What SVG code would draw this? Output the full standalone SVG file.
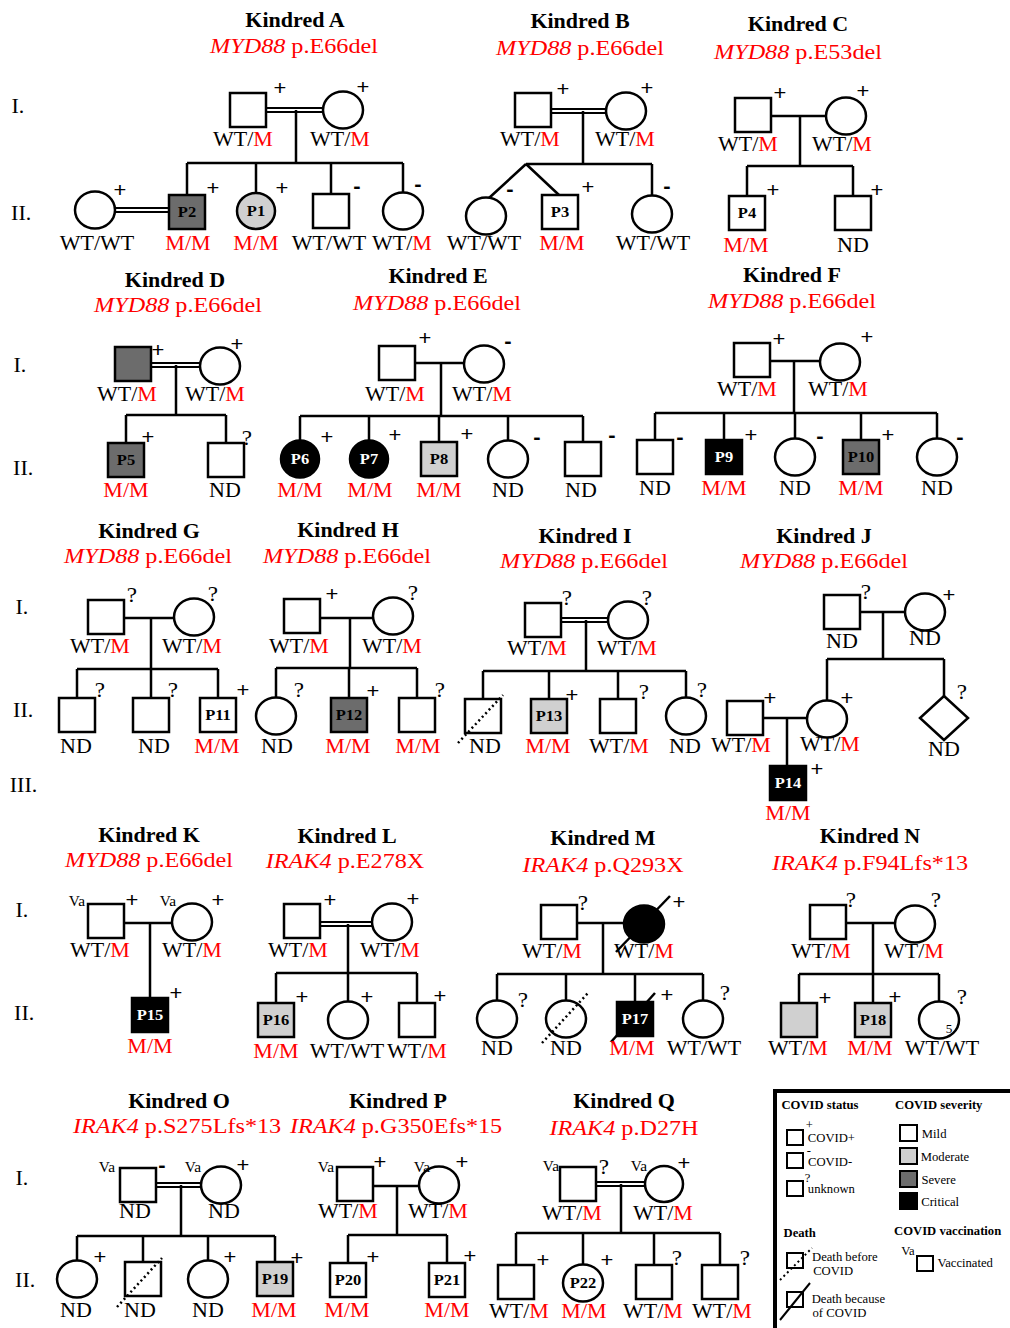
<svg xmlns="http://www.w3.org/2000/svg" width="1010" height="1328" viewBox="0 0 1010 1328">
<style>
text{font-family:"Liberation Serif","Times New Roman",serif;transform-box:fill-box;transform-origin:center;transform:scaleX(1.1)}
.s{fill:#fff;stroke:#000;stroke-width:2.5}
.ls{fill:#fff;stroke:#000;stroke-width:2}
.mo{fill:#d0d0d0}.se{fill:#6c6c6c}.cr{fill:#000}
.c{stroke:#000;stroke-width:2.5;fill:none}
.d{stroke:#000;stroke-width:1.8;fill:none}
.dt{stroke:#000;stroke-width:2.5;stroke-dasharray:2 3;fill:none}
.ti{font-size:20px;font-weight:bold;text-anchor:middle}
.ge{font-size:22px;fill:#f00;text-anchor:middle}
.it{font-style:italic}
.lb{font-size:20px;text-anchor:middle}
.r{fill:#f00}
.mk{font-family:"Liberation Sans",Arial,sans-serif;font-size:20px;text-anchor:middle}
.mn{font-family:"Liberation Sans",Arial,sans-serif;font-size:20px;font-weight:bold;text-anchor:middle}
.q{font-size:21px;text-anchor:middle}
.pl{font-size:15px;font-weight:bold;text-anchor:middle}
.pw{fill:#fff}
.va{font-size:14px;text-anchor:middle}
.gn{font-size:20px}
.lg{font-size:11.5px}
.lh{font-size:11.5px;font-weight:bold}
</style>

<g id="generations">
<text class="gn" x="12" y="113">I.</text><text class="gn" x="12" y="220">II.</text>
<text class="gn" x="14" y="372">I.</text><text class="gn" x="14" y="475">II.</text>
<text class="gn" x="16" y="614">I.</text><text class="gn" x="14" y="717">II.</text><text class="gn" x="11" y="792">III.</text>
<text class="gn" x="16" y="917">I.</text><text class="gn" x="15" y="1020">II.</text>
<text class="gn" x="16" y="1185">I.</text><text class="gn" x="16" y="1287">II.</text>
</g>

<g id="titles">
<text class="ti" x="295" y="27">Kindred A</text><text class="ge" x="294" y="53"><tspan class="it">MYD88</tspan> p.E66del</text>
<text class="ti" x="580" y="28">Kindred B</text><text class="ge" x="580" y="55"><tspan class="it">MYD88</tspan> p.E66del</text>
<text class="ti" x="798" y="31">Kindred C</text><text class="ge" x="798" y="59"><tspan class="it">MYD88</tspan> p.E53del</text>
<text class="ti" x="175" y="287">Kindred D</text><text class="ge" x="178" y="312"><tspan class="it">MYD88</tspan> p.E66del</text>
<text class="ti" x="438" y="283">Kindred E</text><text class="ge" x="437" y="310"><tspan class="it">MYD88</tspan> p.E66del</text>
<text class="ti" x="792" y="282">Kindred F</text><text class="ge" x="792" y="308"><tspan class="it">MYD88</tspan> p.E66del</text>
<text class="ti" x="149" y="538">Kindred G</text><text class="ge" x="148" y="563"><tspan class="it">MYD88</tspan> p.E66del</text>
<text class="ti" x="348" y="537">Kindred H</text><text class="ge" x="347" y="563"><tspan class="it">MYD88</tspan> p.E66del</text>
<text class="ti" x="585" y="543">Kindred I</text><text class="ge" x="584" y="568"><tspan class="it">MYD88</tspan> p.E66del</text>
<text class="ti" x="824" y="543">Kindred J</text><text class="ge" x="824" y="568"><tspan class="it">MYD88</tspan> p.E66del</text>
<text class="ti" x="149" y="842">Kindred K</text><text class="ge" x="149" y="867"><tspan class="it">MYD88</tspan> p.E66del</text>
<text class="ti" x="347" y="843">Kindred L</text><text class="ge" x="345" y="868"><tspan class="it">IRAK4</tspan> p.E278X</text>
<text class="ti" x="603" y="845">Kindred M</text><text class="ge" x="603" y="872"><tspan class="it">IRAK4</tspan> p.Q293X</text>
<text class="ti" x="870" y="843">Kindred N</text><text class="ge" x="870" y="870"><tspan class="it">IRAK4</tspan> p.F94Lfs*13</text>
<text class="ti" x="179" y="1108">Kindred O</text><text class="ge" x="177" y="1133"><tspan class="it">IRAK4</tspan> p.S275Lfs*13</text>
<text class="ti" x="398" y="1108">Kindred P</text><text class="ge" x="396" y="1133"><tspan class="it">IRAK4</tspan> p.G350Efs*15</text>
<text class="ti" x="624" y="1108">Kindred Q</text><text class="ge" x="624" y="1135"><tspan class="it">IRAK4</tspan> p.D27H</text>
</g>

<g id="connectors">
<path class="d" d="M266 108H323M266 112H323M115 208H169M115 212H169"/>
<path class="c" d="M296 110V163M187 163H403M187 163V195M256 163V193M331 163V194M403 163V192.5"/>
<path class="d" d="M551 109H606M551 113H606"/>
<path class="c" d="M583 111V164M526 164H652M526 164L489 198M526 164L559 195M652 164V195.5"/>
<path class="c" d="M771 116H826M800 116V166M747 166H853M747 166V196M853 166V196"/>
<path class="d" d="M151 363H200M151 367H200"/>
<path class="c" d="M176 365V415M126 415H226M126 415V443M226 415V443"/>
<path class="c" d="M415 363H464M441 363V416M300 416H583M300 416V440.5M369 416V440.5M439 416V442M508 416V440.5M583 416V442"/>
<path class="c" d="M770 361H820M794 361V413M655 413H937M655 413V440M724 413V440M795 413V438.5M861 413V440M937 413V438.5"/>
<path class="c" d="M124 618H174M151 618V669M77 669H218M77 669V698M151 669V698M218 669V698"/>
<path class="c" d="M320 618H373M350 618V668M276 668H417M276 668V697.5M349 668V698M417 668V698"/>
<path class="d" d="M561 618H608M561 622H608"/>
<path class="c" d="M586 620V671M483 671H686M483 671V699M549 671V699M618 671V699M686 671V697.5"/>
<path class="c" d="M860 612H905M883 612V659M827 659H944M827 659V700.5M944 659V696M763 718H807M787 718V766"/>
<path class="c" d="M124 923H172M150 923V998"/>
<path class="d" d="M320 922H372M320 926H372"/>
<path class="c" d="M348 924V973M276 973H417M276 973V1003M348 973V1001.5M417 973V1003"/>
<path class="c" d="M577 923H624M603 923V974M497 974H703M497 974V1000.5M566 974V1000.5M635 974V1002M703 974V1000.5"/>
<path class="c" d="M846 923H895M873 923V974M799 974H939M799 974V1003M873 974V1003M939 974V1001.5"/>
<path class="d" d="M156 1183H201M156 1187H201"/>
<path class="c" d="M181 1185V1236M77 1236H275M77 1236V1260.5M143 1236V1262M208 1236V1260.5M275 1236V1262"/>
<path class="c" d="M373 1186H419M397 1186V1235M348 1235H447M348 1235V1263M447 1235V1263"/>
<path class="d" d="M596 1182H644M596 1186H644"/>
<path class="c" d="M621 1184V1233M516 1233H720M516 1233V1265M583 1233V1264.5M654 1233V1265M720 1233V1265"/>
</g>

<g id="A-I1"><rect class="s" x="230" y="93" width="36" height="34"/><text class="mk" x="280" y="95">+</text><text class="lb" x="243" y="146">WT/<tspan class="r">M</tspan></text></g>
<g id="A-I2"><ellipse class="s" cx="343" cy="110" rx="20" ry="18.5"/><text class="mk" x="363" y="94">+</text><text class="lb" x="340" y="146">WT/<tspan class="r">M</tspan></text></g>
<g id="A-sp"><ellipse class="s" cx="95" cy="210" rx="20" ry="18.5"/><text class="mk" x="120" y="197">+</text><text class="lb" x="97" y="250">WT/WT</text></g>
<g id="A-P2"><rect class="s se" x="169" y="195" width="36" height="34"/><text class="pl" x="187" y="217">P2</text><text class="mk" x="213" y="195">+</text><text class="lb r" x="188" y="250">M/M</text></g>
<g id="A-P1"><ellipse class="s mo" cx="256" cy="211" rx="19" ry="18"/><text class="pl" x="256" y="216">P1</text><text class="mk" x="282" y="195">+</text><text class="lb r" x="256" y="250">M/M</text></g>
<g id="A-II3"><rect class="s" x="313" y="194" width="36" height="34"/><text class="mn" x="357" y="193">-</text><text class="lb" x="329" y="250">WT/WT</text></g>
<g id="A-II4"><ellipse class="s" cx="403" cy="211" rx="20" ry="18.5"/><text class="mn" x="418" y="191">-</text><text class="lb" x="402" y="250">WT/<tspan class="r">M</tspan></text></g>

<g id="B-I1"><rect class="s" x="515" y="93" width="36" height="34"/><text class="mk" x="563" y="96">+</text><text class="lb" x="530" y="146">WT/<tspan class="r">M</tspan></text></g>
<g id="B-I2"><ellipse class="s" cx="626" cy="111" rx="20" ry="18.5"/><text class="mk" x="647" y="95">+</text><text class="lb" x="625" y="146">WT/<tspan class="r">M</tspan></text></g>
<g id="B-II1"><ellipse class="s" cx="486" cy="216" rx="20" ry="18.5"/><text class="mn" x="510" y="196">-</text><text class="lb" x="484" y="250">WT/WT</text></g>
<g id="B-P3"><rect class="s" x="542" y="195" width="36" height="34"/><text class="pl" x="560" y="217">P3</text><text class="mk" x="588" y="194">+</text><text class="lb r" x="562" y="250">M/M</text></g>
<g id="B-II3"><ellipse class="s" cx="652" cy="214" rx="20" ry="18.5"/><text class="mn" x="667" y="193">-</text><text class="lb" x="653" y="250">WT/WT</text></g>

<g id="C-I1"><rect class="s" x="735" y="98" width="36" height="34"/><text class="mk" x="780" y="100">+</text><text class="lb" x="748" y="151">WT/<tspan class="r">M</tspan></text></g>
<g id="C-I2"><ellipse class="s" cx="846" cy="116" rx="20" ry="18.5"/><text class="mk" x="863" y="98">+</text><text class="lb" x="842" y="151">WT/<tspan class="r">M</tspan></text></g>
<g id="C-P4"><rect class="s" x="729" y="196" width="36" height="34"/><text class="pl" x="747" y="218">P4</text><text class="mk" x="773" y="197">+</text><text class="lb r" x="746" y="252">M/M</text></g>
<g id="C-II2"><rect class="s" x="835" y="196" width="36" height="34"/><text class="mk" x="877" y="197">+</text><text class="lb" x="853" y="252">ND</text></g>

<g id="D-I1"><rect class="s se" x="115" y="347" width="36" height="34"/><text class="mk" x="158" y="357">+</text><text class="lb" x="127" y="401">WT/<tspan class="r">M</tspan></text></g>
<g id="D-I2"><ellipse class="s" cx="220" cy="366" rx="20" ry="18.5"/><text class="mk" x="237" y="351">+</text><text class="lb" x="215" y="401">WT/<tspan class="r">M</tspan></text></g>
<g id="D-P5"><rect class="s se" x="108" y="443" width="36" height="34"/><text class="pl" x="126" y="465">P5</text><text class="mk" x="148" y="444">+</text><text class="lb r" x="126" y="497">M/M</text></g>
<g id="D-II2"><rect class="s" x="208" y="443" width="36" height="34"/><text class="q" x="247" y="445">?</text><text class="lb" x="225" y="497">ND</text></g>

<g id="E-I1"><rect class="s" x="379" y="346" width="36" height="34"/><text class="mk" x="425" y="345">+</text><text class="lb" x="395" y="401">WT/<tspan class="r">M</tspan></text></g>
<g id="E-I2"><ellipse class="s" cx="484" cy="364" rx="20" ry="18.5"/><text class="mn" x="508" y="348">-</text><text class="lb" x="482" y="401">WT/<tspan class="r">M</tspan></text></g>
<g id="E-P6"><ellipse class="s cr" cx="300" cy="459" rx="19" ry="18.5"/><text class="pl pw" x="300" y="464">P6</text><text class="mk" x="327" y="444">+</text><text class="lb r" x="300" y="497">M/M</text></g>
<g id="E-P7"><ellipse class="s cr" cx="369" cy="459" rx="19" ry="18.5"/><text class="pl pw" x="369" y="464">P7</text><text class="mk" x="395" y="442">+</text><text class="lb r" x="370" y="497">M/M</text></g>
<g id="E-P8"><rect class="s mo" x="421" y="442" width="36" height="34"/><text class="pl" x="439" y="464">P8</text><text class="mk" x="467" y="441">+</text><text class="lb r" x="439" y="497">M/M</text></g>
<g id="E-II4"><ellipse class="s" cx="508" cy="459" rx="20" ry="18.5"/><text class="mn" x="537" y="444">-</text><text class="lb" x="508" y="497">ND</text></g>
<g id="E-II5"><rect class="s" x="565" y="442" width="36" height="34"/><text class="mn" x="612" y="442">-</text><text class="lb" x="581" y="497">ND</text></g>

<g id="F-I1"><rect class="s" x="734" y="343" width="36" height="34"/><text class="mk" x="779" y="346">+</text><text class="lb" x="747" y="396">WT/<tspan class="r">M</tspan></text></g>
<g id="F-I2"><ellipse class="s" cx="840" cy="362" rx="20" ry="18.5"/><text class="mk" x="867" y="344">+</text><text class="lb" x="838" y="396">WT/<tspan class="r">M</tspan></text></g>
<g id="F-II1"><rect class="s" x="637" y="440" width="36" height="34"/><text class="mn" x="680" y="444">-</text><text class="lb" x="655" y="495">ND</text></g>
<g id="F-P9"><rect class="s cr" x="706" y="440" width="36" height="34"/><text class="pl pw" x="724" y="462">P9</text><text class="mk" x="751" y="442">+</text><text class="lb r" x="724" y="495">M/M</text></g>
<g id="F-II3"><ellipse class="s" cx="795" cy="457" rx="20" ry="18.5"/><text class="mn" x="820" y="443">-</text><text class="lb" x="795" y="495">ND</text></g>
<g id="F-P10"><rect class="s se" x="843" y="440" width="36" height="34"/><text class="pl" x="861" y="462">P10</text><text class="mk" x="888" y="442">+</text><text class="lb r" x="861" y="495">M/M</text></g>
<g id="F-II5"><ellipse class="s" cx="937" cy="457" rx="20" ry="18.5"/><text class="mn" x="960" y="444">-</text><text class="lb" x="937" y="495">ND</text></g>

<g id="G-I1"><rect class="s" x="88" y="600" width="36" height="34"/><text class="q" x="132" y="602">?</text><text class="lb" x="100" y="653">WT/<tspan class="r">M</tspan></text></g>
<g id="G-I2"><ellipse class="s" cx="194" cy="617" rx="20" ry="18.5"/><text class="q" x="213" y="601">?</text><text class="lb" x="192" y="653">WT/<tspan class="r">M</tspan></text></g>
<g id="G-II1"><rect class="s" x="59" y="698" width="36" height="34"/><text class="q" x="100" y="697">?</text><text class="lb" x="76" y="753">ND</text></g>
<g id="G-II2"><rect class="s" x="133" y="698" width="36" height="34"/><text class="q" x="173" y="697">?</text><text class="lb" x="154" y="753">ND</text></g>
<g id="G-P11"><rect class="s" x="200" y="698" width="36" height="34"/><text class="pl" x="218" y="720">P11</text><text class="mk" x="243" y="697">+</text><text class="lb r" x="217" y="753">M/M</text></g>

<g id="H-I1"><rect class="s" x="284" y="599" width="36" height="34"/><text class="mk" x="332" y="601">+</text><text class="lb" x="299" y="653">WT/<tspan class="r">M</tspan></text></g>
<g id="H-I2"><ellipse class="s" cx="393" cy="616" rx="20" ry="18.5"/><text class="q" x="413" y="600">?</text><text class="lb" x="392" y="653">WT/<tspan class="r">M</tspan></text></g>
<g id="H-II1"><ellipse class="s" cx="276" cy="716" rx="20" ry="18.5"/><text class="q" x="299" y="697">?</text><text class="lb" x="277" y="753">ND</text></g>
<g id="H-P12"><rect class="s se" x="331" y="698" width="36" height="34"/><text class="pl" x="349" y="720">P12</text><text class="mk" x="373" y="698">+</text><text class="lb r" x="348" y="753">M/M</text></g>
<g id="H-II3"><rect class="s" x="399" y="698" width="36" height="34"/><text class="q" x="440" y="697">?</text><text class="lb r" x="418" y="753">M/M</text></g>

<g id="I-I1"><rect class="s" x="525" y="603" width="36" height="34"/><text class="q" x="567" y="605">?</text><text class="lb" x="537" y="655">WT/<tspan class="r">M</tspan></text></g>
<g id="I-I2"><ellipse class="s" cx="628" cy="620" rx="20" ry="18.5"/><text class="q" x="647" y="605">?</text><text class="lb" x="627" y="655">WT/<tspan class="r">M</tspan></text></g>
<g id="I-II1"><rect class="s" x="465" y="699" width="36" height="34"/><path class="dt" d="M458 743L503 695"/><text class="lb" x="485" y="753">ND</text></g>
<g id="I-P13"><rect class="s mo" x="531" y="699" width="36" height="34"/><text class="pl" x="549" y="721">P13</text><text class="mk" x="572" y="702">+</text><text class="lb r" x="548" y="753">M/M</text></g>
<g id="I-II3"><rect class="s" x="600" y="699" width="36" height="34"/><text class="q" x="644" y="699">?</text><text class="lb" x="619" y="753">WT/<tspan class="r">M</tspan></text></g>
<g id="I-II4"><ellipse class="s" cx="686" cy="716" rx="20" ry="18.5"/><text class="q" x="702" y="697">?</text><text class="lb" x="685" y="753">ND</text></g>

<g id="J-I1"><rect class="s" x="824" y="595" width="36" height="34"/><text class="q" x="866" y="599">?</text><text class="lb" x="842" y="648">ND</text></g>
<g id="J-I2"><ellipse class="s" cx="925" cy="612" rx="20" ry="18.5"/><text class="mk" x="949" y="602">+</text><text class="lb" x="925" y="645">ND</text></g>
<g id="J-sp"><rect class="s" x="727" y="701" width="36" height="34"/><text class="mk" x="770" y="705">+</text><text class="lb" x="741" y="752">WT/<tspan class="r">M</tspan></text></g>
<g id="J-II1"><ellipse class="s" cx="827" cy="719" rx="20" ry="18.5"/><text class="mk" x="847" y="705">+</text><text class="lb" x="830" y="751">WT/<tspan class="r">M</tspan></text></g>
<g id="J-II2"><path class="s" d="M944 696L968 718L944 740L920 718Z"/><text class="q" x="962" y="699">?</text><text class="lb" x="944" y="756">ND</text></g>
<g id="J-P14"><rect class="s cr" x="770" y="766" width="36" height="34"/><text class="pl pw" x="788" y="788">P14</text><text class="mk" x="817" y="776">+</text><text class="lb r" x="788" y="820">M/M</text></g>

<g id="K-I1"><rect class="s" x="88" y="904" width="36" height="34"/><text class="va" x="77" y="906">Va</text><text class="mk" x="132" y="907">+</text><text class="lb" x="100" y="957">WT/<tspan class="r">M</tspan></text></g>
<g id="K-I2"><ellipse class="s" cx="192" cy="922" rx="20" ry="18.5"/><text class="va" x="168" y="906">Va</text><text class="mk" x="218" y="907">+</text><text class="lb" x="192" y="957">WT/<tspan class="r">M</tspan></text></g>
<g id="K-P15"><rect class="s cr" x="132" y="998" width="36" height="34"/><text class="pl pw" x="150" y="1020">P15</text><text class="mk" x="176" y="1000">+</text><text class="lb r" x="150" y="1053">M/M</text></g>

<g id="L-I1"><rect class="s" x="284" y="904" width="36" height="34"/><text class="mk" x="330" y="907">+</text><text class="lb" x="298" y="957">WT/<tspan class="r">M</tspan></text></g>
<g id="L-I2"><ellipse class="s" cx="392" cy="922" rx="20" ry="18.5"/><text class="mk" x="413" y="906">+</text><text class="lb" x="390" y="957">WT/<tspan class="r">M</tspan></text></g>
<g id="L-P16"><rect class="s mo" x="258" y="1003" width="36" height="34"/><text class="pl" x="276" y="1025">P16</text><text class="mk" x="302" y="1004">+</text><text class="lb r" x="276" y="1058">M/M</text></g>
<g id="L-II2"><ellipse class="s" cx="348" cy="1020" rx="20" ry="18.5"/><text class="mk" x="367" y="1004">+</text><text class="lb" x="347" y="1058">WT/WT</text></g>
<g id="L-II3"><rect class="s" x="399" y="1003" width="36" height="34"/><text class="mk" x="440" y="1003">+</text><text class="lb" x="417" y="1058">WT/<tspan class="r">M</tspan></text></g>

<g id="M-I1"><rect class="s" x="541" y="905" width="36" height="34"/><text class="q" x="583" y="910">?</text><text class="lb" x="552" y="958">WT/<tspan class="r">M</tspan></text></g>
<g id="M-I2"><ellipse class="s cr" cx="644" cy="924" rx="20" ry="18.5"/><path class="c" d="M616 952L670 896"/><text class="mk" x="679" y="909">+</text><text class="lb" x="644" y="958">WT/<tspan class="r">M</tspan></text></g>
<g id="M-II1"><ellipse class="s" cx="497" cy="1019" rx="20" ry="18.5"/><text class="q" x="523" y="1007">?</text><text class="lb" x="497" y="1055">ND</text></g>
<g id="M-II2"><ellipse class="s" cx="566" cy="1019" rx="20" ry="18.5"/><path class="dt" d="M542 1043L588 993"/><text class="lb" x="566" y="1055">ND</text></g>
<g id="M-P17"><rect class="s cr" x="617" y="1002" width="36" height="34"/><path class="c" d="M611 1042L655 993"/><text class="pl pw" x="635" y="1024">P17</text><text class="mk" x="667" y="1002">+</text><text class="lb r" x="632" y="1055">M/M</text></g>
<g id="M-II4"><ellipse class="s" cx="703" cy="1019" rx="20" ry="18.5"/><text class="q" x="725" y="1000">?</text><text class="lb" x="704" y="1055">WT/WT</text></g>

<g id="N-I1"><rect class="s" x="810" y="905" width="36" height="34"/><text class="q" x="851" y="907">?</text><text class="lb" x="821" y="958">WT/<tspan class="r">M</tspan></text></g>
<g id="N-I2"><ellipse class="s" cx="915" cy="924" rx="20" ry="18.5"/><text class="q" x="936" y="907">?</text><text class="lb" x="914" y="958">WT/<tspan class="r">M</tspan></text></g>
<g id="N-II1"><rect class="s mo" x="781" y="1003" width="36" height="34"/><text class="mk" x="825" y="1005">+</text><text class="lb" x="798" y="1055">WT/<tspan class="r">M</tspan></text></g>
<g id="N-P18"><rect class="s mo" x="855" y="1003" width="36" height="34"/><text class="pl" x="873" y="1025">P18</text><text class="mk" x="895" y="1004">+</text><text class="lb r" x="870" y="1055">M/M</text></g>
<g id="N-II3"><ellipse class="s" cx="939" cy="1020" rx="20" ry="18.5"/><text x="946" y="1033" style="font-size:12px">5</text><text class="q" x="962" y="1004">?</text><text class="lb" x="942" y="1055">WT/WT</text></g>

<g id="O-I1"><rect class="s" x="120" y="1168" width="36" height="34"/><text class="va" x="107" y="1172">Va</text><text class="mn" x="162" y="1172">-</text><text class="lb" x="135" y="1218">ND</text></g>
<g id="O-I2"><ellipse class="s" cx="221" cy="1185" rx="20" ry="18.5"/><text class="va" x="193" y="1172">Va</text><text class="mk" x="243" y="1172">+</text><text class="lb" x="224" y="1218">ND</text></g>
<g id="O-II1"><ellipse class="s" cx="77" cy="1279" rx="20" ry="18.5"/><text class="mk" x="100" y="1264">+</text><text class="lb" x="76" y="1317">ND</text></g>
<g id="O-II2"><rect class="s" x="125" y="1262" width="36" height="34"/><path class="dt" d="M117 1307L162 1258"/><text class="lb" x="140" y="1317">ND</text></g>
<g id="O-II3"><ellipse class="s" cx="208" cy="1279" rx="20" ry="18.5"/><text class="mk" x="230" y="1264">+</text><text class="lb" x="208" y="1317">ND</text></g>
<g id="O-P19"><rect class="s mo" x="257" y="1262" width="36" height="34"/><text class="pl" x="275" y="1284">P19</text><text class="mk" x="297" y="1265">+</text><text class="lb r" x="274" y="1317">M/M</text></g>

<g id="P-I1"><rect class="s" x="337" y="1167" width="36" height="34"/><text class="va" x="326" y="1172">Va</text><text class="mk" x="380" y="1169">+</text><text class="lb" x="348" y="1218">WT/<tspan class="r">M</tspan></text></g>
<g id="P-I2"><ellipse class="s" cx="439" cy="1185" rx="20" ry="18.5"/><text class="va" x="422" y="1172">Va</text><text class="mk" x="462" y="1169">+</text><text class="lb" x="438" y="1218">WT/<tspan class="r">M</tspan></text></g>
<g id="P-P20"><rect class="s" x="330" y="1263" width="36" height="34"/><text class="pl" x="348" y="1285">P20</text><text class="mk" x="373" y="1264">+</text><text class="lb r" x="347" y="1317">M/M</text></g>
<g id="P-P21"><rect class="s" x="429" y="1263" width="36" height="34"/><text class="pl" x="447" y="1285">P21</text><text class="mk" x="470" y="1263">+</text><text class="lb r" x="447" y="1317">M/M</text></g>

<g id="Q-I1"><rect class="s" x="560" y="1167" width="36" height="34"/><text class="va" x="551" y="1171">Va</text><text class="q" x="604" y="1174">?</text><text class="lb" x="572" y="1220">WT/<tspan class="r">M</tspan></text></g>
<g id="Q-I2"><ellipse class="s" cx="664" cy="1184" rx="19" ry="18"/><text class="va" x="639" y="1171">Va</text><text class="mk" x="684" y="1170">+</text><text class="lb" x="663" y="1220">WT/<tspan class="r">M</tspan></text></g>
<g id="Q-II1"><rect class="s" x="498" y="1265" width="36" height="34"/><text class="mk" x="543" y="1267">+</text><text class="lb" x="519" y="1318">WT/<tspan class="r">M</tspan></text></g>
<g id="Q-P22"><ellipse class="s" cx="583" cy="1283" rx="20" ry="18.5"/><text class="pl" x="583" y="1288">P22</text><text class="mk" x="607" y="1267">+</text><text class="lb r" x="584" y="1318">M/M</text></g>
<g id="Q-II3"><rect class="s" x="636" y="1265" width="36" height="34"/><text class="q" x="677" y="1265">?</text><text class="lb" x="653" y="1318">WT/<tspan class="r">M</tspan></text></g>
<g id="Q-II4"><rect class="s" x="702" y="1265" width="36" height="34"/><text class="q" x="745" y="1265">?</text><text class="lb" x="722" y="1318">WT/<tspan class="r">M</tspan></text></g>

<g id="legend">
<rect x="775" y="1091" width="260" height="260" fill="none" stroke="#000" stroke-width="4"/>
<text class="lh" x="785" y="1109">COVID status</text>
<text class="lh" x="899" y="1109">COVID severity</text>
<rect class="ls" x="787" y="1130" width="16" height="15"/><text class="lg" x="806" y="1129">+</text><text class="lg" x="810" y="1142">COVID+</text>
<rect class="ls" x="787" y="1153" width="16" height="15"/><text class="lg" x="807" y="1155">-</text><text class="lg" x="810" y="1166">COVID-</text>
<rect class="ls" x="787" y="1181" width="16" height="15"/><text class="lg" x="805" y="1182">?</text><text class="lg" x="810" y="1193">unknown</text>
<rect class="ls" x="900" y="1125" width="17" height="16"/><text class="lg" x="923" y="1138">Mild</text>
<rect class="ls mo" x="900" y="1148" width="17" height="16"/><text class="lg" x="923" y="1161">Moderate</text>
<rect class="ls se" x="900" y="1171" width="17" height="16"/><text class="lg" x="923" y="1184">Severe</text>
<rect class="ls cr" x="900" y="1193" width="17" height="16"/><text class="lg" x="923" y="1206">Critical</text>
<text class="lh" x="785" y="1237">Death</text>
<text class="lh" x="899" y="1235">COVID vaccination</text>
<rect class="ls" x="787" y="1253" width="16" height="15"/><path class="dt" d="M780 1280L812 1248" style="stroke-width:2"/>
<text class="lg" x="815" y="1261">Death before</text><text class="lg" x="815" y="1275">COVID</text>
<rect class="ls" x="787" y="1292" width="16" height="15"/><path class="c" d="M780 1320L810 1283" style="stroke-width:2"/>
<text class="lg" x="815" y="1303">Death because</text><text class="lg" x="815" y="1317">of COVID</text>
<text class="lg" x="902" y="1255">Va</text><rect class="ls" x="917" y="1256" width="16" height="15"/><text class="lg" x="940" y="1267">Vaccinated</text>
</g>
</svg>
